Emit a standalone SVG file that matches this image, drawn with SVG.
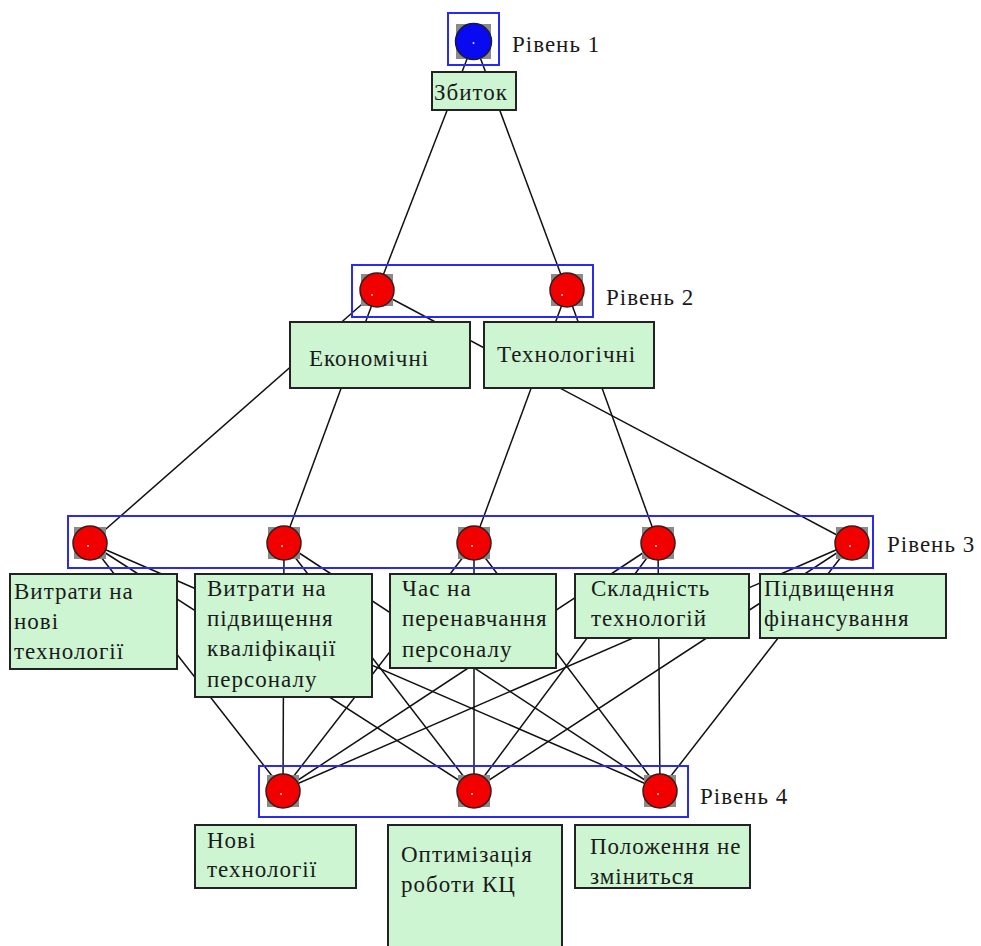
<svg xmlns="http://www.w3.org/2000/svg" width="981" height="946" viewBox="0 0 981 946">
<style>
  .bg{fill:#ffffff}
  .edge{stroke:#111;stroke-width:1.5;fill:none}
  .lvl{fill:none;stroke:#2a2af0;stroke-width:2}
  .sq{fill:#8a8a8a}
  .red{fill:#f20000;stroke:#3a1a1a;stroke-width:1.5}
  .blue{fill:#0a0af0;stroke:#1a1a3a;stroke-width:1.5}
  .dot{fill:#ffd0d0}
  .box{fill:#cdf5d2;stroke:#222;stroke-width:2}
  text{font-family:"Liberation Serif","DejaVu Serif",serif;font-size:23px;letter-spacing:1px;fill:#1a1a1a}
</style>
<rect class="bg" x="0" y="0" width="981" height="946"/>

<g id="connectors">
  <line class="edge" x1="474" y1="41" x2="377" y2="291"/>
  <line class="edge" x1="474" y1="41" x2="567" y2="291"/>
  <line class="edge" x1="377" y1="291" x2="90" y2="543"/>
  <line class="edge" x1="377" y1="291" x2="284" y2="543"/>
  <line class="edge" x1="377" y1="291" x2="852" y2="543"/>
  <line class="edge" x1="567" y1="291" x2="474" y2="543"/>
  <line class="edge" x1="567" y1="291" x2="658" y2="543"/>
  <line class="edge" x1="90" y1="543" x2="283" y2="790"/>
  <line class="edge" x1="90" y1="543" x2="474" y2="790"/>
  <line class="edge" x1="90" y1="543" x2="660" y2="790"/>
  <line class="edge" x1="284" y1="543" x2="283" y2="790"/>
  <line class="edge" x1="284" y1="543" x2="474" y2="790"/>
  <line class="edge" x1="284" y1="543" x2="660" y2="790"/>
  <line class="edge" x1="474" y1="543" x2="283" y2="790"/>
  <line class="edge" x1="474" y1="543" x2="474" y2="790"/>
  <line class="edge" x1="474" y1="543" x2="660" y2="790"/>
  <line class="edge" x1="658" y1="543" x2="283" y2="790"/>
  <line class="edge" x1="658" y1="543" x2="474" y2="790"/>
  <line class="edge" x1="658" y1="543" x2="660" y2="790"/>
  <line class="edge" x1="852" y1="543" x2="283" y2="790"/>
  <line class="edge" x1="852" y1="543" x2="474" y2="790"/>
  <line class="edge" x1="852" y1="543" x2="660" y2="790"/>
</g>

<g id="level1">
  <rect class="lvl" x="448" y="13" width="51" height="52"/>
  <rect class="sq" x="456" y="24" width="35" height="35"/>
  <circle class="blue" cx="473.5" cy="41.5" r="18"/>
  <circle class="dot" cx="473.5" cy="43" r="1"/>
  <text x="512" y="52">Рівень 1</text>
</g>

<g id="level2">
  <rect class="lvl" x="352" y="265" width="241" height="52"/>
  <rect class="sq" x="361" y="274" width="32" height="32"/>
  <circle class="red" cx="377" cy="290" r="17"/>
  <circle class="dot" cx="372" cy="295" r="1"/>
  <rect class="sq" x="551" y="274" width="32" height="32"/>
  <circle class="red" cx="567" cy="290" r="17"/>
  <circle class="dot" cx="562" cy="295" r="1"/>
  <text x="606" y="305">Рівень 2</text>
</g>

<g id="level3">
  <rect class="lvl" x="68" y="516" width="805" height="52"/>
  <rect class="sq" x="74" y="527" width="32" height="32"/>
  <circle class="red" cx="90" cy="543" r="17"/>
  <circle class="dot" cx="88" cy="546" r="1"/>
  <rect class="sq" x="268" y="527" width="32" height="32"/>
  <circle class="red" cx="284" cy="543" r="17"/>
  <circle class="dot" cx="282" cy="546" r="1"/>
  <rect class="sq" x="458" y="527" width="32" height="32"/>
  <circle class="red" cx="474" cy="543" r="17"/>
  <circle class="dot" cx="472" cy="546" r="1"/>
  <rect class="sq" x="642" y="527" width="32" height="32"/>
  <circle class="red" cx="658" cy="543" r="17"/>
  <circle class="dot" cx="656" cy="546" r="1"/>
  <rect class="sq" x="836" y="527" width="32" height="32"/>
  <circle class="red" cx="852" cy="543" r="17"/>
  <circle class="dot" cx="850" cy="546" r="1"/>
  <text x="887" y="552">Рівень 3</text>
</g>

<g id="level4">
  <rect class="lvl" x="259" y="766" width="429" height="51"/>
  <rect class="sq" x="267" y="775" width="32" height="32"/>
  <circle class="red" cx="283" cy="791" r="17"/>
  <circle class="dot" cx="281" cy="794" r="1"/>
  <rect class="sq" x="458" y="775" width="32" height="32"/>
  <circle class="red" cx="474" cy="791" r="17"/>
  <circle class="dot" cx="472" cy="794" r="1"/>
  <rect class="sq" x="644" y="775" width="32" height="32"/>
  <circle class="red" cx="660" cy="791" r="17"/>
  <circle class="dot" cx="658" cy="794" r="1"/>
  <text x="700" y="804">Рівень 4</text>
</g>

<g id="n-zbytok">
  <rect class="box" x="432" y="72" width="84" height="38"/>
  <text x="434" y="100">Збиток</text>
</g>
<g id="n-ekonomichni">
  <rect class="box" x="290" y="322" width="180" height="66"/>
  <text x="309" y="366">Економічні</text>
</g>
<g id="n-tekhnolohichni">
  <rect class="box" x="484" y="322" width="170" height="66"/>
  <text x="497" y="362">Технологічні</text>
</g>

<g id="n-vytraty-novi">
  <rect class="box" x="10" y="574" width="167" height="95"/>
  <text x="14" y="599">Витрати на</text>
  <text x="14" y="629">нові</text>
  <text x="14" y="659">технології</text>
</g>
<g id="n-vytraty-kvalif">
  <rect class="box" x="195" y="574" width="177" height="123"/>
  <text x="207" y="596">Витрати на</text>
  <text x="207" y="626">підвищення</text>
  <text x="207" y="656">кваліфікації</text>
  <text x="207" y="687">персоналу</text>
</g>
<g id="n-chas">
  <rect class="box" x="390" y="574" width="166" height="94"/>
  <text x="402" y="596">Час на</text>
  <text x="402" y="626">перенавчання</text>
  <text x="402" y="657">персоналу</text>
</g>
<g id="n-skladnist">
  <rect class="box" x="575" y="574" width="174" height="64"/>
  <text x="591" y="596">Складність</text>
  <text x="591" y="626">технологій</text>
</g>
<g id="n-pidvyshchennia">
  <rect class="box" x="760" y="574" width="186" height="64"/>
  <text x="764" y="596">Підвищення</text>
  <text x="764" y="626">фінансування</text>
</g>

<g id="n-novi">
  <rect class="box" x="195" y="825" width="161" height="63"/>
  <text x="207" y="848">Нові</text>
  <text x="207" y="877">технології</text>
</g>
<g id="n-optymizatsiia">
  <rect class="box" x="388" y="825" width="174" height="130"/>
  <text x="401" y="862">Оптимізація</text>
  <text x="401" y="892">роботи КЦ</text>
</g>
<g id="n-polozhennia">
  <rect class="box" x="575" y="825" width="175" height="63"/>
  <text x="590" y="854">Положення не</text>
  <text x="590" y="884">зміниться</text>
</g>
</svg>
